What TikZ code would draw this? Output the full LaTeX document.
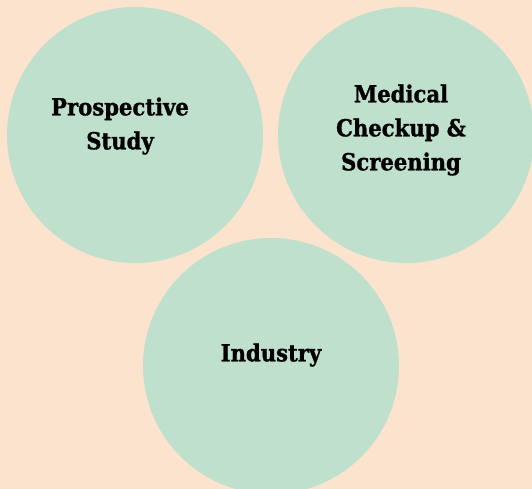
\documentclass[tikz,border=0pt]{standalone}
\usepackage{fontspec}
\setmainfont{DejaVu Serif Condensed}[BoldFeatures={FakeBold=1.2}]
\begin{document}
\begin{tikzpicture}[x=1pt,y=-1pt,
  bubble/.style={circle,fill=bubblegreen,draw=none,minimum size=256pt,inner sep=0pt},
  caption/.style={align=center,font=\bfseries\fontsize{23.5}{34}\selectfont,text=black}]
\definecolor{bgpeach}{HTML}{FCE3CD}
\definecolor{bubblegreen}{HTML}{BFE0CD}
\fill[bgpeach] (0,0) rectangle (532,489);
\useasboundingbox (0,0) rectangle (532,489);
\begin{scope}
\clip (0,0) rectangle (532,489);
\node[bubble] (study) at (135,135) {};
\node[bubble] (medical) at (406,135) {};
\node[bubble] (industry) at (271,366) {};
\end{scope}
\node[caption] (studytext) at (120,126) {Prospective\\Study};
\node[caption] (medicaltext) at (401,130) {Medical\\Checkup \&\\Screening};
\node[caption] (industrytext) at (271,355) {Industry};
\end{tikzpicture}
\end{document}
